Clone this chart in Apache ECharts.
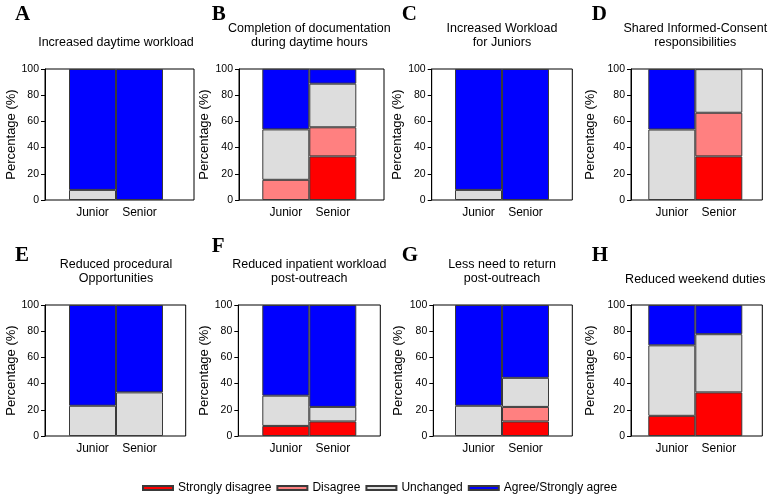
<!DOCTYPE html>
<html><head><meta charset="utf-8">
<script src="https://cdn.jsdelivr.net/npm/echarts@6/dist/echarts.min.js"></script>
<style>html,body{margin:0;padding:0;background:#fff}#c{width:771px;height:498px}</style>
</head><body><div id="c"></div><script>
// ---- data ----
const categories = ['Junior', 'Senior'];
const panelLetters = ['A', 'B', 'C', 'D', 'E', 'F', 'G', 'H'];
const panelTitles = [
  'Increased daytime workload',
  'Completion of documentation\nduring daytime hours',
  'Increased Workload\nfor Juniors',
  'Shared Informed-Consent\nresponsibilities',
  'Reduced procedural\nOpportunities',
  'Reduced inpatient workload\npost-outreach',
  'Less need to return\npost-outreach',
  'Reduced weekend duties'
];
const seriesNames = ['Strongly disagree', 'Disagree', 'Unchanged', 'Agree/Strongly agree'];
// each entry: [Junior, Senior] per panel A..H
const stronglyDisagree = [[0, 0], [0, 33.3], [0, 0], [0, 33.3], [0, 0], [7.7, 11.1], [0, 11.1], [15.4, 33.3]];
const disagree         = [[0, 0], [15.4, 22.2], [0, 0], [0, 33.3], [0, 0], [0, 0], [0, 11.1], [0, 0]];
const unchanged        = [[7.7, 0], [38.5, 33.3], [7.7, 0], [53.8, 33.3], [23.1, 33.3], [23.1, 11.1], [23.1, 22.2], [53.8, 44.4]];
const agree            = [[92.3, 100], [46.2, 11.1], [92.3, 100], [46.2, 0], [76.9, 66.7], [69.2, 77.8], [76.9, 55.6], [30.8, 22.2]];
const yMin = 0, yMax = 100, yStep = 20;

// ---- styles / layout ----
const colors = ['#FF0000', '#FF8080', '#DDDDDD', '#0000FF'];
const allSeriesData = [stronglyDisagree, disagree, unchanged, agree];
const FONT = 'Liberation Sans, Arial, sans-serif';
const layout = [
  {L: 45,    R: 194,   T: 69,  b0: 69,    gap: 27, lx: 15,    ly: 21,  ty: 42.5},
  {L: 239,   R: 384,   T: 69,  b0: 262.3, gap: 28, lx: 211.7, ly: 21,  ty: 35.7},
  {L: 431.7, R: 572.3, T: 69,  b0: 455,   gap: 27, lx: 401.7, ly: 21,  ty: 35.7},
  {L: 631,   R: 762.3, T: 69,  b0: 648.3, gap: 34, lx: 591.7, ly: 21,  ty: 35.7},
  {L: 45,    R: 185.7, T: 305, b0: 69,    gap: 27, lx: 15,    ly: 262, ty: 271.3},
  {L: 238.3, R: 380.3, T: 305, b0: 262.3, gap: 27, lx: 211.7, ly: 253, ty: 271.3},
  {L: 433.3, R: 572.3, T: 305, b0: 455,   gap: 28, lx: 401.7, ly: 262, ty: 271.3},
  {L: 631,   R: 762.3, T: 305, b0: 648.3, gap: 34, lx: 591.7, ly: 262, ty: 279.3}
];
const H = 131, BW = 47;

const grid = [], xAxis = [], yAxis = [], series = [], graphic = [];
layout.forEach((p, i) => {
  grid.push({left: p.L, top: p.T, width: p.R - p.L, height: H, show: true, borderColor: '#000', borderWidth: 1, backgroundColor: 'transparent'});
  xAxis.push({gridIndex: 2 * i, type: 'value', min: 0, max: 1, show: false});
  yAxis.push({
    gridIndex: 2 * i, type: 'value', min: yMin, max: yMax, interval: yStep,
    name: 'Percentage (%)', nameLocation: 'middle', nameGap: p.gap,
    nameTextStyle: {fontSize: 13, color: '#000', fontFamily: FONT},
    axisLine: {show: true, lineStyle: {color: '#000', width: 1}},
    axisTick: {show: true, length: 4, lineStyle: {color: '#000'}},
    axisLabel: {fontSize: 10.5, color: '#000', margin: 6, fontFamily: FONT},
    splitLine: {show: false}
  });
  grid.push({left: p.b0, top: p.T, width: 2 * BW, height: H});
  xAxis.push({
    gridIndex: 2 * i + 1, type: 'category', data: categories,
    axisLine: {show: false}, axisTick: {show: false},
    axisLabel: {fontSize: 12, color: '#000', margin: 7, fontFamily: FONT}
  });
  yAxis.push({gridIndex: 2 * i + 1, type: 'value', min: yMin, max: yMax, show: false, splitLine: {show: false}});
  seriesNames.forEach((name, k) => {
    series.push({
      name, type: 'bar', stack: 'p' + i,
      xAxisIndex: 2 * i + 1, yAxisIndex: 2 * i + 1,
      barCategoryGap: '0%', barWidth: BW,
      data: allSeriesData[k][i].map(v => (v === 0 ? null : v)),
      itemStyle: {color: colors[k], borderColor: '#3a3a3a', borderWidth: 1},
      emphasis: {disabled: true}
    });
  });
  graphic.push({
    type: 'text', x: p.lx, y: p.ly + 4,
    style: {text: panelLetters[i], font: 'bold 21px "Liberation Serif", "Times New Roman", serif', fill: '#000', textAlign: 'left', textVerticalAlign: 'bottom'}
  });
  graphic.push({
    type: 'text', x: p.b0 + BW, y: p.ty,
    style: {text: panelTitles[i], font: '12.5px ' + FONT, fill: '#000', textAlign: 'center', textVerticalAlign: 'middle', lineHeight: 14}
  });
});

const chart = echarts.init(document.getElementById('c'), null, {renderer: 'canvas'});
chart.setOption({
  animation: false,
  backgroundColor: '#fff',
  grid, xAxis, yAxis, series, graphic,
  legend: {
    data: seriesNames, bottom: 4, left: 142, padding: 0,
    itemWidth: 30, itemHeight: 4, itemGap: 5, icon: 'rect',
    textStyle: {fontSize: 12, color: '#000', fontFamily: FONT}
  }
});
</script></body></html>
